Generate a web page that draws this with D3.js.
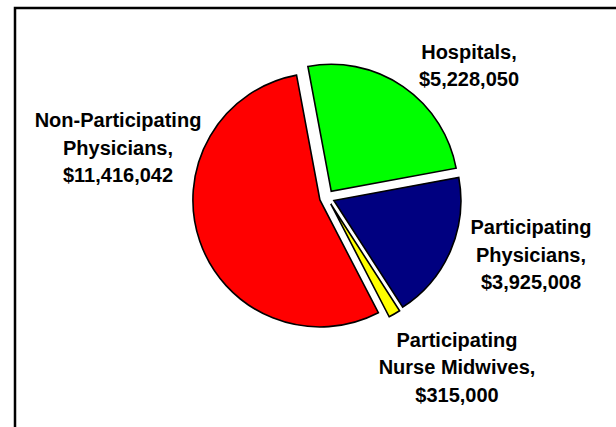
<!DOCTYPE html>
<html>
<head>
<meta charset="utf-8">
<script src="https://cdn.jsdelivr.net/npm/d3@7/dist/d3.min.js"></script>
<style>
  html, body { margin: 0; padding: 0; background: #fff; }
  svg { display: block; }
</style>
</head>
<body>
<script>
// slice data, clockwise starting just left of 12 o'clock
const categories = ['Hospitals', 'Participating Physicians', 'Participating Nurse Midwives', 'Non-Participating Physicians'];
const amounts = [5228050, 3925008, 315000, 11416042];
const labelLines = [
  ['Hospitals,'],
  ['Participating', 'Physicians,'],
  ['Participating', 'Nurse Midwives,'],
  ['Non-Participating', 'Physicians,']
];
const colors = ['#00ff00', '#000080', '#ffff00', '#ff0000'];

const width = 616, height = 427;
const cx = 327, cy = 197.5;
const radius = 127;
const explode = 7.5;
const lineHeight = 27.5;

// label anchor (centre x, first baseline y) relative to pie centre
const labelOffsets = [[142, -139], [204, 36.5], [130, 149], [-209, -70.5]];

const fmt = d3.format('$,d');

const svg = d3.select('body').append('svg')
  .attr('width', width)
  .attr('height', height);

// chart frame, runs off the right and bottom edge
svg.append('rect')
  .attr('x', 15)
  .attr('y', 8)
  .attr('width', 640)
  .attr('height', 460)
  .attr('fill', 'none')
  .attr('stroke', '#000')
  .attr('stroke-width', 2.5);

const start = -10.6 * Math.PI / 180;
const pie = d3.pie()
  .sort(null)
  .value(d => d)
  .startAngle(start)
  .endAngle(start + 2 * Math.PI);

const arc = d3.arc()
  .innerRadius(0)
  .outerRadius(radius);

const arcs = pie(amounts);

const g = svg.append('g')
  .attr('transform', 'translate(' + cx + ',' + cy + ')');

g.selectAll('.slice')
  .data(arcs)
  .enter().append('path')
  .attr('class', 'slice')
  .attr('d', arc)
  .attr('transform', d => {
    const mid = (d.startAngle + d.endAngle) / 2;
    return 'translate(' + (explode * Math.sin(mid)) + ',' + (-explode * Math.cos(mid)) + ')';
  })
  .attr('fill', (d, i) => colors[i])
  .attr('stroke', '#000')
  .attr('stroke-width', 1.6)
  .attr('stroke-linejoin', 'miter');

const labels = g.selectAll('.label')
  .data(arcs)
  .enter().append('text')
  .attr('class', 'label')
  .attr('text-anchor', 'middle')
  .style('font-family', '"Liberation Sans", Arial, sans-serif')
  .style('font-weight', 'bold')
  .style('font-size', '20px')
  .attr('fill', '#000');

labels.each(function(d, i) {
  const lines = labelLines[i].concat([fmt(d.data)]);
  const [ox, oy] = labelOffsets[i];
  d3.select(this).selectAll('tspan')
    .data(lines)
    .enter().append('tspan')
    .attr('x', ox)
    .attr('y', (t, j) => oy + j * lineHeight)
    .text(t => t);
});
</script>
</body>
</html>
